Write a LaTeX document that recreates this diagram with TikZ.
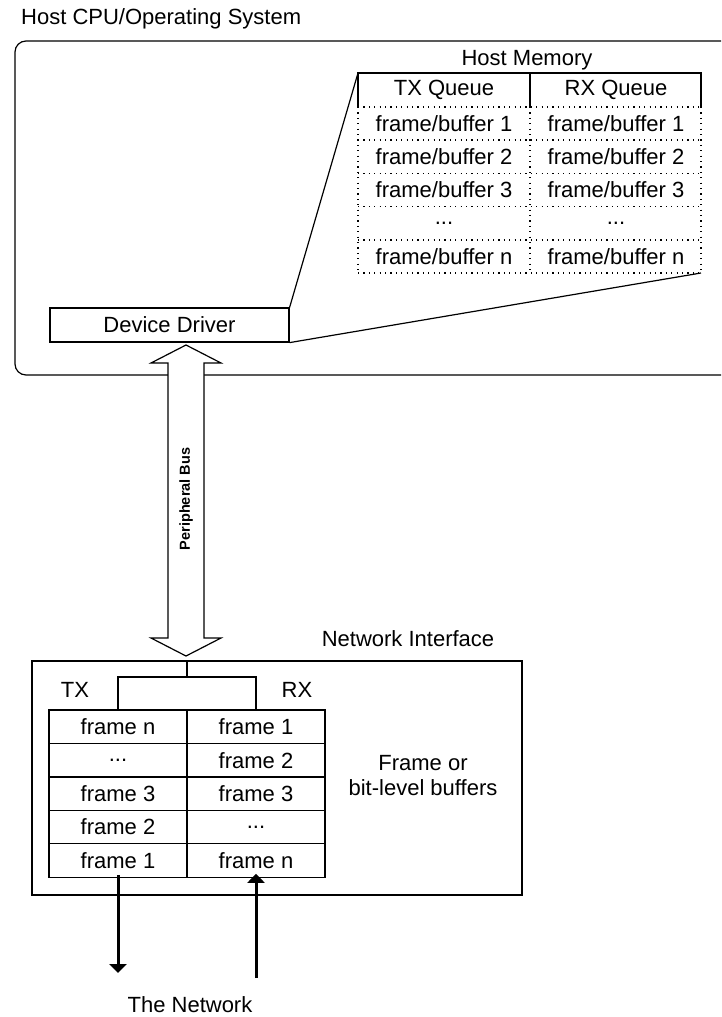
\documentclass[tikz,border=0pt]{standalone}
\usepackage{fontspec}
\setmainfont{Liberation Sans}
\usetikzlibrary{arrows.meta}
\tikzset{
  txt/.style={font=\fontsize{22}{26}\selectfont, inner sep=0pt},
  thin/.style={line width=1.2pt},
  dotline/.style={line width=1.3pt, dash pattern=on 1.2pt off 4.2pt},
  ddbox/.style={draw, thin, minimum width=239pt, minimum height=34pt, inner sep=0pt, font=\fontsize{22}{26}\selectfont},
  cell/.style={draw, thin, minimum width=138pt, minimum height=33.6pt, inner sep=0pt, font=\fontsize{22}{26}\selectfont},
  qcell/.style={minimum width=172pt, minimum height=33pt, inner sep=0pt, font=\fontsize{22}{26}\selectfont},
  netarrow/.style={line width=3pt, -{Triangle[width=17pt,length=9pt]}},
  busarrow/.style={draw, thin, fill=white, line join=miter}
}
\begin{document}
\begin{tikzpicture}[x=1pt,y=-1pt]
\useasboundingbox (0,0) rectangle (721,1017);

% Host CPU
\node[txt, anchor=west] (hostlbl) at (21,19) {Host CPU/Operating System};
\draw[thin, rounded corners=11pt] (721,41) -- (15,41) -- (15,375) -- (721,375);

% Host memory
\node[txt] (hmlbl) at (527,60) {Host Memory};
\coordinate (qtl) at (358,73);
\coordinate (qtr) at (701,73);
\coordinate (qbr) at (701,273);
\draw[thin] (358,107) -- (qtl) -- (qtr) -- (701,107);
\draw[thin] (530,73) -- (530,107);
\node[qcell] (txq) at (444,90) {TX Queue};
\node[qcell] (rxq) at (616,90) {RX Queue};
\foreach \y in {107,140,173.3,206.6,240,273} {
  \draw[dotline] (358,\y) -- (701,\y);
}
\foreach \x in {358,530,701} {
  \draw[dotline] (\x,107) -- (\x,273);
}
\foreach \n/\y in {1/123.5, 2/156.6, 3/190, n/256.6} {
  \node[qcell] (tq\n) at (444,\y) {frame/buffer \n};
  \node[qcell] (rq\n) at (616,\y) {frame/buffer \n};
}
\node[qcell] (tqd) at (444,223.3) {...};
\node[qcell] (rqd) at (616,223.3) {...};

% Device driver
\node[ddbox] (dd) at (169.5,325) {Device Driver};
\draw[thin] (dd.north east) -- (qtl);
\draw[thin] (dd.south east) -- (qbr);

% Peripheral bus double arrow
\coordinate (bt) at (186,345);
\coordinate (bb) at (186,656);
\draw[busarrow] (bt) -- (221,363) -- (204,363) -- (204,638) -- (221,638) -- (bb) -- (151,638) -- (168,638) -- (168,363) -- (151,363) -- cycle;
\node[font=\bfseries\fontsize{14.5}{17}\selectfont, rotate=90, inner sep=0pt] (pb) at (186,499) {Peripheral Bus};

% Network interface
\node[txt] (nilbl) at (408,639) {Network Interface};
\draw[thin] (32,661) rectangle (522,895);
\coordinate (nitop) at (187,661);
\node[txt] (txl) at (75,690) {TX};
\node[txt] (rxl) at (297,690) {RX};

\node[cell] (tx1) at (118,726.8) {frame n};
\node[cell] (rx1) at (256,726.8) {frame 1};
\node[cell] (tx2) at (118,760.2) {...};
\node[cell] (rx2) at (256,760.2) {frame 2};
\node[cell] (tx3) at (118,793.6) {frame 3};
\node[cell] (rx3) at (256,793.6) {frame 3};
\node[cell] (tx4) at (118,827) {frame 2};
\node[cell] (rx4) at (256,827) {...};
\node[cell] (tx5) at (118,860.4) {frame 1};
\node[cell] (rx5) at (256,860.4) {frame n};

\coordinate (split) at (187,677);
\draw[thin] (nitop) -- (split) -| (tx1.north);
\draw[thin] (split) -| (rx1.north);

\node[txt, align=center] (fb) at (423,776) {Frame or\\[-1pt]bit-level buffers};

% network arrows
\coordinate (txend) at (118,973);
\coordinate (rxstart) at (256,978);
\draw[netarrow] ([yshift=3pt]tx5.south) -- (txend);
\draw[netarrow] (rxstart) -- ([yshift=4pt]rx5.south);
\node[txt] (net) at (190,1005) {The Network};
\end{tikzpicture}
\end{document}
